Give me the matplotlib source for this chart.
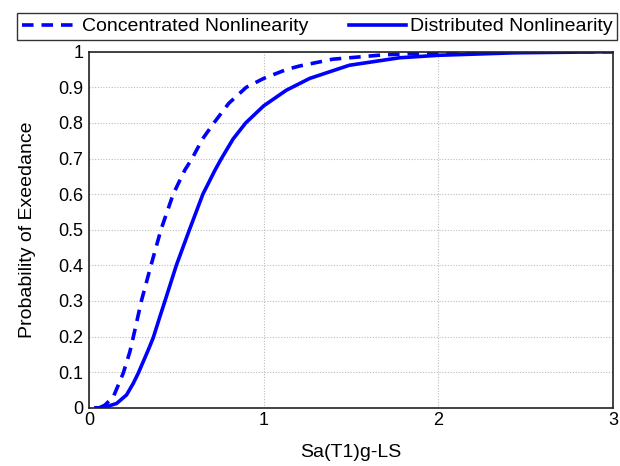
import matplotlib
matplotlib.use("Agg")
import matplotlib.pyplot as plt

plt.rcParams['font.family'] = ['Liberation Sans', 'DejaVu Sans']

# Concentrated Nonlinearity (dashed)
conc_x = [0.06, 0.09, 0.139, 0.196, 0.234, 0.253, 0.30, 0.355, 0.412, 0.482, 0.549, 0.59, 0.65, 0.715, 0.80, 0.90, 1.0, 1.13, 1.206, 1.395, 1.68, 2.0, 2.5, 3.0]
conc_y = [0.0, 0.007, 0.03, 0.097, 0.157, 0.197, 0.30, 0.40, 0.50, 0.60, 0.668, 0.70, 0.755, 0.80, 0.855, 0.90, 0.925, 0.95, 0.96, 0.979, 0.991, 0.998, 1.0, 1.0]

# Distributed Nonlinearity (solid)
dist_x = [0.04, 0.063, 0.10, 0.158, 0.215, 0.253, 0.282, 0.339, 0.368, 0.406, 0.435, 0.50, 0.575, 0.652, 0.722, 0.758, 0.825, 0.897, 1.0, 1.13, 1.263, 1.49, 1.777, 2.0, 2.44, 3.0]
dist_y = [0.0, 0.0, 0.003, 0.012, 0.036, 0.068, 0.097, 0.162, 0.197, 0.256, 0.30, 0.40, 0.50, 0.60, 0.668, 0.70, 0.755, 0.80, 0.848, 0.892, 0.925, 0.962, 0.983, 0.99, 0.997, 1.0]

xticks = [0, 1, 2, 3]
yticks = [0, 0.1, 0.2, 0.3, 0.4, 0.5, 0.6, 0.7, 0.8, 0.9, 1]
yticklabels = ['0', '0.1', '0.2', '0.3', '0.4', '0.5', '0.6', '0.7', '0.8', '0.9', '1']

fig = plt.figure(figsize=(6.2, 4.66), dpi=100)
ax = fig.add_axes([0.1435, 0.125, 0.8455, 0.764])

l1, = ax.plot(conc_x, conc_y, color='#0000ff', lw=2.6, linestyle=(0, (3.2, 2.2)),
              label='Concentrated Nonlinearity', solid_joinstyle='round')
l2, = ax.plot(dist_x, dist_y, color='#0000ff', lw=2.6, linestyle='-',
              label='Distributed Nonlinearity', solid_joinstyle='round')

ax.set_xlim(0, 3)
ax.set_ylim(0, 1)
ax.set_xticks(xticks)
ax.set_xticklabels([str(t) for t in xticks])
ax.set_yticks(yticks)
ax.set_yticklabels(yticklabels)
ax.tick_params(labelsize=13, length=0)
ax.tick_params(axis='x', pad=3)
ax.tick_params(axis='y', pad=4)
ax.grid(True, color='#bbbbbb', linestyle=(0, (1, 1.5)), linewidth=0.8)
for s in ax.spines.values():
    s.set_color('#222222')
    s.set_linewidth(1.2)

ax.set_xlabel('Sa(T1)g-LS', fontsize=14, labelpad=11)
ax.set_ylabel('Probability of Exeedance', fontsize=14, labelpad=16)

leg = fig.legend(handles=[l1, l2], loc='center', bbox_to_anchor=(0.0274, 0.9077, 0.968, 0.0708),
                 mode='expand', ncol=2, fontsize=14, frameon=True, fancybox=False,
                 handlelength=2.9, handletextpad=0.2, borderpad=0.25, columnspacing=2.0,
                 borderaxespad=0)
leg.get_frame().set_edgecolor('black')
leg.get_frame().set_linewidth(1.0)

fig.savefig('out.png', dpi=100)
